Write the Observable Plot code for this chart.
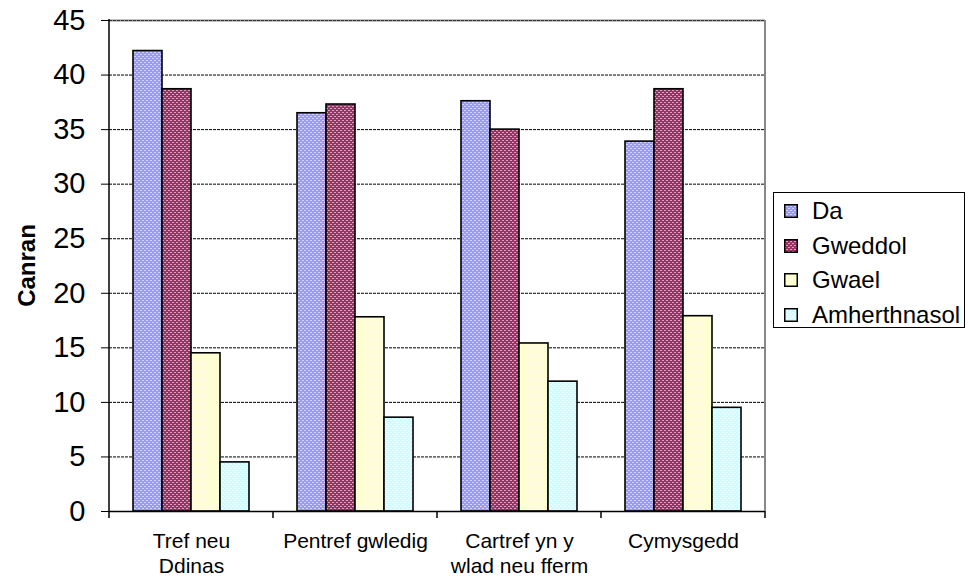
<!DOCTYPE html>
<html>
<head>
<meta charset="utf-8">
<script src="https://cdn.jsdelivr.net/npm/d3@7"></script>
<script src="https://cdn.jsdelivr.net/npm/@observablehq/plot@0.6"></script>
<style>
  html, body { margin: 0; padding: 0; background: #fff; }
  #wrap { position: relative; width: 968px; height: 580px; font-family: "Liberation Sans", Arial, sans-serif; }
  #legend { position: absolute; left: 773px; top: 192px; width: 192px; height: 136px; border: 1px solid #000; background: #fff; box-sizing: border-box; }
  .row { position: absolute; left: 0; height: 30px; display: flex; align-items: center; font-size: 24px; color: #000; white-space: nowrap; }
  .row svg { margin-left: 10px; margin-right: 14px; }
</style>
</head>
<body>
<svg width="0" height="0" style="position:absolute">
  <defs>
    <pattern id="pDa" width="4" height="4" patternUnits="userSpaceOnUse">
      <rect width="4" height="4" fill="#9999FF"/>
      <rect x="0" y="0" width="2" height="1" fill="#D4D4FF"/>
      <rect x="2" y="2" width="2" height="1" fill="#D4D4FF"/>
    </pattern>
    <pattern id="pGweddol" width="4" height="4" patternUnits="userSpaceOnUse">
      <rect width="4" height="4" fill="#993366"/>
      <rect x="0" y="0" width="2" height="1" fill="#D9A3BD"/>
      <rect x="2" y="2" width="2" height="1" fill="#D9A3BD"/>
    </pattern>
    <pattern id="pGwael" width="4" height="4" patternUnits="userSpaceOnUse">
      <rect width="4" height="4" fill="#FFFFCC"/>
      <rect x="0" y="0" width="2" height="1" fill="#FFFFE8"/>
      <rect x="2" y="2" width="2" height="1" fill="#FFFFE8"/>
    </pattern>
    <pattern id="pAmh" width="4" height="4" patternUnits="userSpaceOnUse">
      <rect width="4" height="4" fill="#CCFFFF"/>
      <rect x="0" y="0" width="2" height="1" fill="#F0FFFF"/>
      <rect x="2" y="2" width="2" height="1" fill="#F0FFFF"/>
    </pattern>
  </defs>
</svg>
<div id="wrap">
  <div id="chart"></div>
  <div id="legend"></div>
</div>
<script>
// ---- data ----
const categories = ["Tref neu Ddinas", "Pentref gwledig", "Cartref yn y wlad neu fferm", "Cymysgedd"];
const categoryLabels = ["Tref neu\nDdinas", "Pentref gwledig", "Cartref yn y\nwlad neu fferm", "Cymysgedd"];
const series = ["Da", "Gweddol", "Gwael", "Amherthnasol"];
const valuesDa = [42.2, 36.5, 37.6, 33.9];
const valuesGweddol = [38.7, 37.3, 35.0, 38.7];
const valuesGwael = [14.5, 17.8, 15.4, 17.9];
const valuesAmherthnasol = [4.5, 8.6, 11.9, 9.5];
const yTicks = [0, 5, 10, 15, 20, 25, 30, 35, 40, 45];
const yLabel = "Canran";

const seriesValues = [valuesDa, valuesGweddol, valuesGwael, valuesAmherthnasol];
const fills = ["url(#pDa)", "url(#pGweddol)", "url(#pGwael)", "url(#pAmh)"];

const data = [];
categories.forEach((c, i) => {
  series.forEach((s, j) => data.push({category: c, series: s, value: seriesValues[j][i]}));
});
const labelOf = new Map(categories.map((c, i) => [c, categoryLabels[i]]));

const chart = Plot.plot({
  width: 968,
  height: 580,
  marginLeft: 107,
  marginRight: 202,
  marginTop: 20,
  marginBottom: 69,
  style: {fontFamily: "'Liberation Sans', Arial, sans-serif", background: "#fff", color: "#000"},
  fx: {domain: categories, padding: 0, label: null, axis: null},
  x: {domain: series, paddingInner: 0, paddingOuter: 0.75, axis: null},
  y: {domain: [0, 45], axis: null},
  color: {domain: series, range: fills},
  marks: [
    Plot.ruleY(yTicks.filter(t => t > 0 && t < 45), {stroke: "#000", strokeWidth: 1, strokeDasharray: "3,1"}),
    Plot.ruleY([45], {stroke: "#888", strokeWidth: 2}),
    Plot.ruleY([45], {stroke: "#000", strokeWidth: 1, strokeDasharray: "3,1", strokeOpacity: 0.6}),
    Plot.barY(data, {fx: "category", x: "series", y: "value", fill: "series", stroke: "#000", strokeWidth: 1.6}),
    Plot.ruleY([0], {stroke: "#000", strokeWidth: 1.5}),
    Plot.axisY({ticks: yTicks, tickSize: 8, tickPadding: 16, fontSize: 29, label: null, stroke: "#000", tickFormat: d => String(d)}),
    Plot.axisFx({anchor: "bottom", tickSize: 0, tickPadding: 19, fontSize: 21, lineHeight: 1.18, label: null, tickFormat: d => labelOf.get(d)})
  ]
});
document.getElementById("chart").appendChild(chart);

// frame pieces: y axis line, right border, group separator ticks, axis title
const fxS = chart.scale("fx");
const yS = chart.scale("y");
const svg = d3.select(chart);
const edges = categories.map(c => fxS.apply(c));
edges.push(fxS.apply(categories[categories.length - 1]) + fxS.bandwidth);
const y0 = yS.apply(0), yTop = yS.apply(45);
svg.append("line").attr("x1", edges[edges.length - 1]).attr("x2", edges[edges.length - 1])
  .attr("y1", yTop).attr("y2", y0).attr("stroke", "#888").attr("stroke-width", 2);
svg.append("line").attr("x1", edges[0]).attr("x2", edges[0])
  .attr("y1", yTop - 1).attr("y2", y0 + 1).attr("stroke", "#000").attr("stroke-width", 1.5);
edges.forEach(e => {
  svg.append("line").attr("x1", e).attr("x2", e).attr("y1", y0).attr("y2", y0 + 7)
    .attr("stroke", "#000").attr("stroke-width", 1.5);
});
svg.append("text").text(yLabel)
  .attr("transform", `translate(${edges[0] - 74},${(y0 + yTop) / 2}) rotate(-90)`)
  .attr("text-anchor", "middle").attr("font-weight", "bold").attr("font-size", 24)
  .attr("font-family", "'Liberation Sans', Arial, sans-serif").attr("fill", "#000");

// legend
const legend = document.getElementById("legend");
series.forEach((s, j) => {
  const row = document.createElement("div");
  row.className = "row";
  row.style.top = (3 + j * 34.7) + "px";
  row.innerHTML = `<svg width="14" height="14"><rect x="0.75" y="0.75" width="12.5" height="12.5" fill="${fills[j]}" stroke="#000" stroke-width="1.5"/></svg><span>${s}</span>`;
  legend.appendChild(row);
});
</script>
</body>
</html>
